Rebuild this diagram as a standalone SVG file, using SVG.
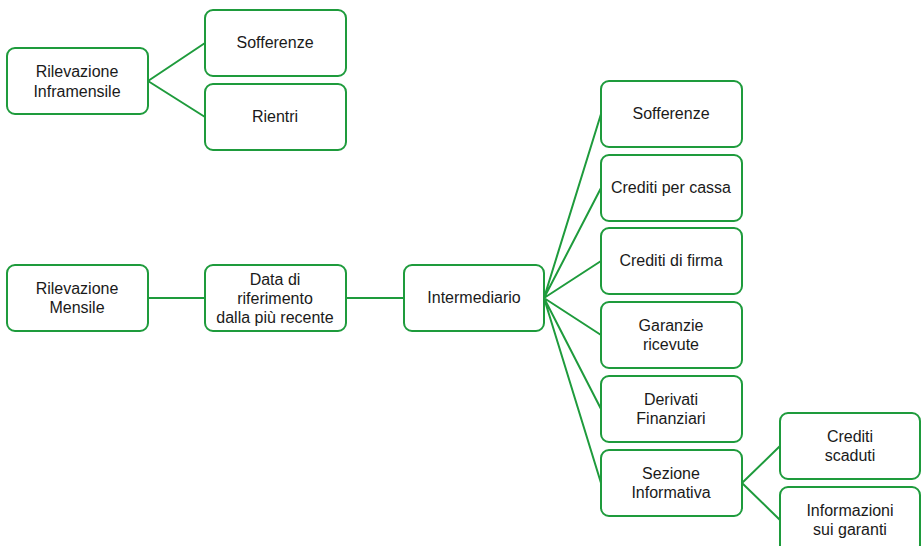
<svg xmlns="http://www.w3.org/2000/svg" width="922" height="546" viewBox="0 0 922 546">
<style>
.box{fill:#fff;stroke:#1e9b3c;stroke-width:2}
.ln{stroke:#1e9b3c;stroke-width:2;fill:none}
text{font-family:"Liberation Sans","Arial",sans-serif;font-size:16px;fill:#1a1a1a;text-anchor:middle}
</style>
<rect width="922" height="546" fill="#fff"/>
<g id="connectors">
<path class="ln" d="M148 81 L205 43 M148 81 L205 117"/>
<path class="ln" d="M148 298 L205 298 M346 298 L404 298"/>
<path class="ln" d="M544 298 L601 114 M544 298 L601 188 M544 298 L601 261 M544 298 L601 335 M544 298 L601 409 M544 298 L601 483"/>
<path class="ln" d="M742 483 L780 446 M742 483 L780 520"/>
</g>
<g id="n-inframensile"><rect class="box" x="7" y="48" width="141" height="66" rx="8"/><text x="77" y="77">Rilevazione</text><text x="77" y="97">Inframensile</text></g>
<g id="n-sofferenze1"><rect class="box" x="205" y="10" width="141" height="66" rx="8"/><text x="275" y="48">Sofferenze</text></g>
<g id="n-rientri"><rect class="box" x="205" y="84" width="141" height="66" rx="8"/><text x="275" y="122">Rientri</text></g>
<g id="n-mensile"><rect class="box" x="7" y="265" width="141" height="66" rx="8"/><text x="77" y="294">Rilevazione</text><text x="77" y="313">Mensile</text></g>
<g id="n-data"><rect class="box" x="205" y="265" width="141" height="66" rx="8"/><text x="275" y="285">Data di</text><text x="275" y="304">riferimento</text><text x="275" y="323">dalla più recente</text></g>
<g id="n-intermediario"><rect class="box" x="404" y="265" width="140" height="66" rx="8"/><text x="474" y="303">Intermediario</text></g>
<g id="n-sofferenze2"><rect class="box" x="601" y="81" width="141" height="66" rx="8"/><text x="671" y="119">Sofferenze</text></g>
<g id="n-cassa"><rect class="box" x="601" y="155" width="141" height="66" rx="8"/><text x="671" y="193">Crediti per cassa</text></g>
<g id="n-firma"><rect class="box" x="601" y="228" width="141" height="66" rx="8"/><text x="671" y="266">Crediti di firma</text></g>
<g id="n-garanzie"><rect class="box" x="601" y="302" width="141" height="66" rx="8"/><text x="671" y="331">Garanzie</text><text x="671" y="350">ricevute</text></g>
<g id="n-derivati"><rect class="box" x="601" y="376" width="141" height="66" rx="8"/><text x="671" y="405">Derivati</text><text x="671" y="424">Finanziari</text></g>
<g id="n-sezione"><rect class="box" x="601" y="450" width="141" height="66" rx="8"/><text x="671" y="479">Sezione</text><text x="671" y="498">Informativa</text></g>
<g id="n-scaduti"><rect class="box" x="780" y="413" width="140" height="66" rx="8"/><text x="850" y="442">Crediti</text><text x="850" y="461">scaduti</text></g>
<g id="n-garanti"><rect class="box" x="780" y="487" width="140" height="66" rx="8"/><text x="850" y="516">Informazioni</text><text x="850" y="535">sui garanti</text></g>
</svg>
